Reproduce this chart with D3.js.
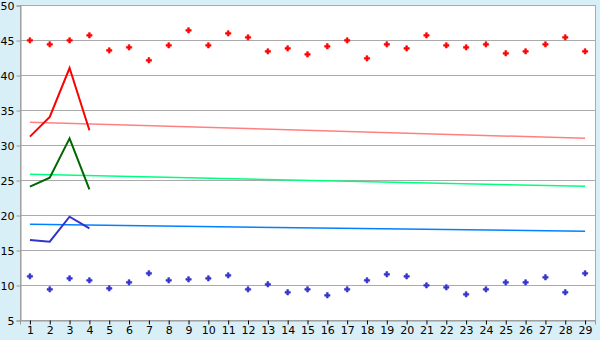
<!DOCTYPE html>
<html>
<head>
<meta charset="UTF-8">
<style>
    body { margin: 0; background: #d9eff7; }
    svg { display: block; }
    .tick text { font-family: "DejaVu Sans", sans-serif; font-size: 11px; fill: #000; }
</style>
</head>
<body>
<svg width="600" height="340"></svg>
<script src="https://d3js.org/d3.v7.min.js"></script>
<script>

// chart data
let categories = [1,2,3,4,5,6,7,8,9,10,11,12,13,14,15,16,17,18,19,20,21,22,23,24,25,26,27,28,29]
let yTicks = [5,10,15,20,25,30,35,40,45,50]

let upperPoints = [44.95,44.38,44.95,45.67,43.52,43.95,42.1,44.24,46.38,44.24,45.95,45.38,43.38,43.8,42.95,
                   44.1,44.95,42.38,44.38,43.8,45.67,44.24,43.95,44.38,43.1,43.38,44.38,45.38,43.38]
let lowerPoints = [11.24,9.38,10.95,10.67,9.52,10.38,11.67,10.67,10.81,10.95,11.38,9.38,10.1,8.96,9.38,
                   8.53,9.38,10.67,11.53,11.24,9.95,9.67,8.67,9.38,10.38,10.38,11.1,8.96,11.67]

let shortCats = [1,2,3,4]
let redLine = [31.2,34.0,41.0,32.1]
let greenLine = [24.05,25.33,30.95,23.67]
let blueLine = [16.43,16.19,19.76,18.1]

let trendCats = [1,29]
let redTrend = [33.24,30.95]
let greenTrend = [25.81,24.1]
let blueTrend = [18.67,17.67]

let svg = d3.select("svg")
let plotLeft = 20, plotRight = 595, plotTop = 5, plotBottom = 320

let x = d3.scalePoint().domain(categories).range([plotLeft, plotRight]).padding(0.5)
let y = d3.scaleLinear().domain([5, 50]).range([plotBottom, plotTop])

// plot area
svg.append("rect")
    .attr("x", plotLeft + 0.5).attr("y", plotTop + 0.5)
    .attr("width", plotRight - plotLeft).attr("height", plotBottom - plotTop)
    .attr("fill", "#fff")
    .attr("stroke", "#aaa")

// gridlines
svg.append("g")
    .selectAll("line")
    .data(yTicks)
    .enter()
    .append("line")
    .attr("x1", plotLeft).attr("x2", plotRight)
    .attr("y1", d => Math.round(y(d)) + 0.5)
    .attr("y2", d => Math.round(y(d)) + 0.5)
    .attr("stroke", "#aaa")

// axes
let yAxis = svg.append("g")
    .attr("transform", "translate(" + (plotLeft + 0.5) + ",0.5)")
    .call(d3.axisLeft(y).tickValues(yTicks).tickSize(4).tickPadding(2))
let xAxis = svg.append("g")
    .attr("transform", "translate(0," + (plotBottom + 0.5) + ")")
    .call(d3.axisBottom(x).tickSize(4).tickPadding(2))
svg.selectAll(".domain").attr("stroke", "#999")
yAxis.selectAll(".tick line").attr("stroke", "#999")
xAxis.selectAll(".tick line").attr("stroke", "#000")

function line(cats) {
    return d3.line().x((d, i) => x(cats[i])).y(d => y(d))
}

// trend lines
let trends = [[redTrend, "#ff8080"], [greenTrend, "#00ff80"], [blueTrend, "#0080ff"]]
trends.forEach(t => {
    svg.append("path")
        .attr("d", line(trendCats)(t[0]))
        .attr("fill", "none")
        .attr("stroke", t[1])
        .attr("stroke-width", 1.5)
})

// short thick lines
let shorts = [[redLine, "#ff0000"], [greenLine, "#006600"], [blueLine, "#3333cc"]]
shorts.forEach(s => {
    svg.append("path")
        .attr("d", line(shortCats)(s[0]))
        .attr("fill", "none")
        .attr("stroke", s[1])
        .attr("stroke-width", 2)
})

// markers
let marker = d3.symbol().type(d3.symbolCross).size(16)
let points = [[upperPoints, "#ff0000"], [lowerPoints, "#3333cc"]]
points.forEach(p => {
    svg.append("g")
        .selectAll("path")
        .data(p[0])
        .enter()
        .append("path")
        .attr("d", marker)
        .attr("transform", (d, i) => "translate(" + x(categories[i]) + "," + y(d) + ")")
        .attr("fill", p[1])
        .attr("stroke", p[1])
        .attr("stroke-width", 0.6)
})

</script>
</body>
</html>
